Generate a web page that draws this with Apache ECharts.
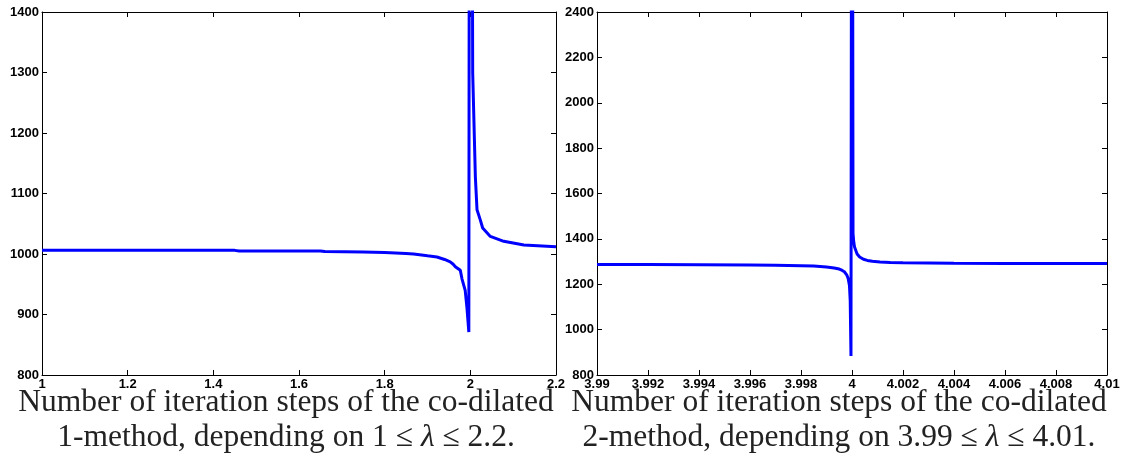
<!DOCTYPE html>
<html>
<head>
<meta charset="utf-8">
<script src="https://cdn.jsdelivr.net/npm/echarts@6/dist/echarts.min.js"></script>
<style>
html,body{margin:0;padding:0;background:#fff;}
#c{width:1125px;height:460px;}
</style>
</head>
<body>
<div id="c"></div>
<script>
// Left panel: co-dilated 1-method, 1 <= lambda <= 2.2
const leftX = [1, 1.2, 1.45, 1.46, 1.65, 1.66, 1.75, 1.8, 1.85, 1.8675, 1.9, 1.922, 1.94, 1.953, 1.96, 1.965, 1.9766, 1.9805, 1.988, 1.992, 1.9965, 1.9995, 2.0055, 2.0117, 2.0156, 2.0234, 2.0288, 2.0467, 2.078, 2.125, 2.2];
const leftY = [1006, 1006, 1006, 1005, 1005, 1004, 1003.5, 1002.5, 1001, 1000, 997, 995, 991, 987, 983, 979, 973, 959, 940, 912, 871, 3000, 1300, 1128, 1073, 1056, 1043, 1029, 1021, 1015, 1012];
// Right panel: co-dilated 2-method, 3.99 <= lambda <= 4.01
const rightX = [3.99, 3.992, 3.994, 3.996, 3.997, 3.998, 3.9985, 3.999, 3.9993, 3.9995, 3.9996, 3.9997, 3.9998, 3.99985, 3.9999, 3.99993, 3.99996, 4.0, 4.00004, 4.00007, 4.0001, 4.0002, 4.0003, 4.00045, 4.0006, 4.0008, 4.0011, 4.0015, 4.002, 4.003, 4.004, 4.006, 4.008, 4.01];
const rightY = [1287, 1287, 1286, 1285, 1284, 1282, 1280, 1276, 1272, 1267, 1262, 1255, 1240, 1225, 1195, 1128, 884, 5000, 1423, 1385, 1364, 1333, 1320, 1310, 1305, 1301, 1298, 1296, 1295, 1294, 1293, 1292, 1291, 1291];

const leftXTicks = {min: 1, max: 2.2, interval: 0.2};
const leftYTicks = {min: 800, max: 1400, interval: 100};
const rightXTicks = {min: 3.99, max: 4.01, interval: 0.002};
const rightYTicks = {min: 800, max: 2400, interval: 200};

const captionLeft = ['Number of iteration steps of the co-dilated', ['1-method, depending on 1 \u2264 ', '\u03bb', ' \u2264 2.2.']];
const captionRight = ['Number of iteration steps of the co-dilated', ['2-method, depending on 3.99 \u2264 ', '\u03bb', ' \u2264 4.01.']];

const labelFont = {fontFamily: 'Liberation Sans, Arial, sans-serif', fontWeight: 'bold', fontSize: 13, color: '#000'};
const fmt = v => String(+(+v).toFixed(4));

function xAxes(grid, t) {
  const base = {type: 'value', gridIndex: grid, min: t.min, max: t.max, interval: t.interval,
    splitLine: {show: false},
    axisLine: {show: true, onZero: false, lineStyle: {color: '#000', width: 1}},
    axisTick: {show: true, inside: true, length: 5, lineStyle: {color: '#000'}}};
  return [
    Object.assign({}, base, {position: 'bottom', axisLabel: Object.assign({show: true, margin: 3, formatter: fmt}, labelFont)}),
    Object.assign({}, base, {position: 'top', axisLabel: {show: false}})
  ];
}
function yAxes(grid, t) {
  const base = {type: 'value', gridIndex: grid, min: t.min, max: t.max, interval: t.interval,
    splitLine: {show: false},
    axisLine: {show: true, onZero: false, lineStyle: {color: '#000', width: 1}},
    axisTick: {show: true, inside: true, length: 5, lineStyle: {color: '#000'}}};
  return [
    Object.assign({}, base, {position: 'left', axisLabel: Object.assign({show: true, margin: 3, formatter: fmt}, labelFont)}),
    Object.assign({}, base, {position: 'right', axisLabel: {show: false}})
  ];
}

function caption(cx, lines) {
  const rich = {i: {fontStyle: 'italic', fontFamily: 'Liberation Serif, serif', fontSize: 31.5, fill: '#222'}};
  return [
    {type: 'text', x: cx, y: 403, style: {text: lines[0], align: 'center', verticalAlign: 'middle', font: '31.5px "Liberation Serif", serif', fill: '#222'}},
    {type: 'text', x: cx, y: 438, style: {text: lines[1][0] + '{i|' + lines[1][1] + '}' + lines[1][2], rich: rich, align: 'center', verticalAlign: 'middle', font: '31.5px "Liberation Serif", serif', fill: '#222'}}
  ];
}

const chart = echarts.init(document.getElementById('c'), null, {renderer: 'canvas'});
chart.setOption({
  animation: false,
  backgroundColor: '#fff',
  grid: [
    {left: 42, top: 12, width: 514, height: 363},
    {left: 597, top: 12, width: 510, height: 363}
  ],
  xAxis: xAxes(0, leftXTicks).concat(xAxes(1, rightXTicks)),
  yAxis: yAxes(0, leftYTicks).concat(yAxes(1, rightYTicks)),
  series: [
    {type: 'line', xAxisIndex: 0, yAxisIndex: 0, symbol: 'none', clip: true,
      lineStyle: {color: '#0000ff', width: 3}, data: leftX.map((x, i) => [x, leftY[i]])},
    {type: 'line', xAxisIndex: 2, yAxisIndex: 2, symbol: 'none', clip: true,
      lineStyle: {color: '#0000ff', width: 3}, data: rightX.map((x, i) => [x, rightY[i]])}
  ],
  graphic: caption(286, captionLeft).concat(caption(839, captionRight))
});
</script>
</body>
</html>
